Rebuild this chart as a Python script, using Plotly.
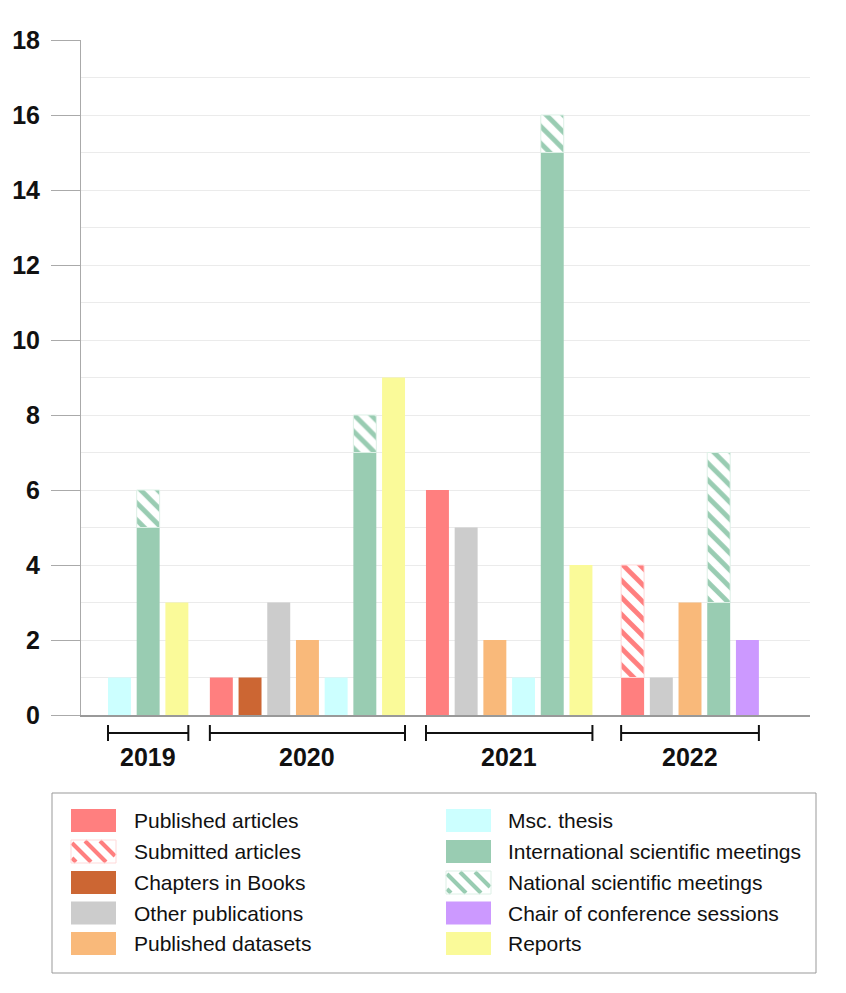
import plotly.graph_objects as go

# ---------------- data ----------------
years = ["2019", "2020", "2021", "2022"]
published = [0, 1, 6, 1]
submitted = [0, 0, 0, 3]
chapters = [0, 1, 0, 0]
other_pubs = [0, 3, 5, 1]
datasets = [0, 2, 2, 3]
msc = [1, 1, 1, 0]
international = [5, 7, 15, 3]
national = [1, 1, 1, 4]
chair = [0, 0, 0, 2]
reports = [3, 9, 4, 0]

labels = {
    "published": "Published articles", "submitted": "Submitted articles",
    "chapters": "Chapters in Books", "other": "Other publications",
    "datasets": "Published datasets", "msc": "Msc. thesis",
    "international": "International scientific meetings",
    "national": "National scientific meetings",
    "chair": "Chair of conference sessions", "reports": "Reports",
}
colors = {
    "published": "#FF7F7F", "submitted": "#FF7F7F", "chapters": "#CC6633",
    "other": "#CCCCCC", "datasets": "#F9B97A", "msc": "#CCFFFF",
    "international": "#99CCB2", "national": "#99CCB2", "chair": "#CC99FF",
    "reports": "#FAFA99",
}
light = {"submitted": "#FFD9D9", "national": "#DDF0E6"}

# columns: (bottom series, optional stacked hatched series)
columns = [
    ("published", published, "submitted", submitted),
    ("chapters", chapters, None, None),
    ("other", other_pubs, None, None),
    ("datasets", datasets, None, None),
    ("msc", msc, None, None),
    ("international", international, "national", national),
    ("chair", chair, None, None),
    ("reports", reports, None, None),
]

# ---------------- geometry (style) ----------------
W, H = 846, 993
OX, OY = 8, 8          # page offset of the figure in the screenshot
PL, PR, PT, PB = 81, 810, 40, 715
UNIT = 28.7
first_pos = 1.34
group_gaps = [1.55, 1.53, 1.80]
bar_w = 0.8
FONT = "Liberation Sans, Arial, sans-serif"

def pxp(x):
    return (x - OX) / W

def pyp(y):
    return (H - (y - OY)) / H

fig = go.Figure()

# compute positions
pos = {}
group_extent = []
x = first_pos
for yi in range(len(years)):
    if yi > 0:
        x += group_gaps[yi - 1]
    xs = []
    for ci, (k, v, k2, v2) in enumerate(columns):
        tot = v[yi] + (v2[yi] if v2 else 0)
        if tot > 0:
            pos[(ci, yi)] = x
            xs.append(x)
            x += 1
    x -= 1
    group_extent.append((xs[0] - bar_w / 2, xs[-1] + bar_w / 2))

for ci, (k, v, k2, v2) in enumerate(columns):
    xs, ys = [], []
    for yi in range(len(years)):
        if v[yi] > 0:
            xs.append(pos[(ci, yi)]); ys.append(v[yi])
    if xs:
        fig.add_trace(go.Bar(x=xs, y=ys, width=bar_w, name=labels[k],
                             marker=dict(color=colors[k], line=dict(width=0)),
                             hoverinfo="skip"))
    if k2:
        xs, ys, bs = [], [], []
        for yi in range(len(years)):
            if v2[yi] > 0:
                xs.append(pos[(ci, yi)]); ys.append(v2[yi]); bs.append(v[yi])
        fig.add_trace(go.Bar(x=xs, y=ys, base=bs, width=bar_w, name=labels[k2],
                             marker=dict(color="white",
                                         line=dict(width=1, color=light[k2]),
                                         pattern=dict(shape="\\", fgcolor=colors[k2],
                                                      bgcolor="white", size=12,
                                                      solidity=0.4, fgopacity=1)),
                             hoverinfo="skip"))

shapes = []
annotations = []

# brackets under groups
for yi, (a, b) in enumerate(group_extent):
    shapes.append(dict(type="line", xref="x", yref="paper", x0=a, x1=b,
                       y0=pyp(733), y1=pyp(733), line=dict(color="#111", width=2)))
    for e in (a, b):
        shapes.append(dict(type="line", xref="x", yref="paper", x0=e, x1=e,
                           y0=pyp(725), y1=pyp(741), line=dict(color="#111", width=2)))
    annotations.append(dict(x=(a + b) / 2, xref="x", y=pyp(757), yref="paper",
                            text=years[yi], showarrow=False, xanchor="center",
                            yanchor="middle",
                            font=dict(size=25, color="#111", weight=700, family=FONT)))

# legend box
shapes.append(dict(type="rect", xref="paper", yref="paper", x0=pxp(52), x1=pxp(816),
                   y0=pyp(973), y1=pyp(793), line=dict(color="#999", width=1),
                   fillcolor="rgba(0,0,0,0)"))

left_keys = ["published", "submitted", "chapters", "other", "datasets"]
right_keys = ["msc", "international", "national", "chair", "reports"]
row_y = [820.5, 851.5, 882.5, 913, 943.5]
sw_w, sw_h = 45, 23

def hatch(x0, y0, x1, y1, color, spacing=15, lw=4):
    out = []
    k = y0 - x1 - spacing
    while k < y1 - x0 + spacing:
        sx = max(x0, y0 - k)
        ex = min(x1, y1 - k)
        if ex > sx + 0.5:
            out.append(dict(type="line", xref="paper", yref="paper",
                            x0=pxp(sx), y0=pyp(sx + k), x1=pxp(ex), y1=pyp(ex + k),
                            line=dict(color=color, width=lw)))
        k += spacing
    return out

for keys, sx, tx in ((left_keys, 71, 132), (right_keys, 446, 506)):
    for ri, k in enumerate(keys):
        cy = row_y[ri]
        y0, y1 = cy - sw_h / 2, cy + sw_h / 2
        if k in light:
            shapes.append(dict(type="rect", xref="paper", yref="paper",
                               x0=pxp(sx), x1=pxp(sx + sw_w), y0=pyp(y1), y1=pyp(y0),
                               fillcolor="white", line=dict(width=0)))
            shapes.extend(hatch(sx + 1, y0 + 1, sx + sw_w - 1, y1 - 1, colors[k]))
            shapes.append(dict(type="rect", xref="paper", yref="paper",
                               x0=pxp(sx), x1=pxp(sx + sw_w), y0=pyp(y1), y1=pyp(y0),
                               fillcolor="rgba(0,0,0,0)",
                               line=dict(width=1, color=light[k])))
        else:
            shapes.append(dict(type="rect", xref="paper", yref="paper",
                               x0=pxp(sx), x1=pxp(sx + sw_w), y0=pyp(y1), y1=pyp(y0),
                               fillcolor=colors[k], line=dict(width=0)))
        annotations.append(dict(x=pxp(tx), y=pyp(cy), xref="paper", yref="paper",
                                text=labels[k], showarrow=False, xanchor="left",
                                yanchor="middle",
                                font=dict(size=21, color="#111", family=FONT)))

fig.update_layout(
    width=W, height=H,
    margin=dict(l=0, r=0, t=0, b=0, autoexpand=False),
    paper_bgcolor="white", plot_bgcolor="white",
    barmode="overlay", showlegend=False,
    font=dict(family=FONT),
    xaxis=dict(domain=[pxp(PL), pxp(PR)], range=[0, (PR - PL) / UNIT],
               automargin=False,
               showline=True, linecolor="#999", linewidth=1.5,
               showticklabels=False, showgrid=False, zeroline=False, ticks=""),
    yaxis=dict(domain=[pyp(PB), pyp(PT)], range=[0, 18], automargin=False,
               tickvals=list(range(0, 19, 2)), ticks="outside", ticklen=29,
               tickcolor="#aaa", tickwidth=1, ticklabelstandoff=6,
               tickfont=dict(size=25, color="#111", weight=700, family=FONT),
               showgrid=True, gridcolor="#ebebeb", gridwidth=1,
               minor=dict(dtick=1, showgrid=True, gridcolor="#ebebeb", ticks=""),
               showline=True, linecolor="#aaa", zeroline=False),
    shapes=shapes, annotations=annotations,
)

fig.write_html("out.html")
